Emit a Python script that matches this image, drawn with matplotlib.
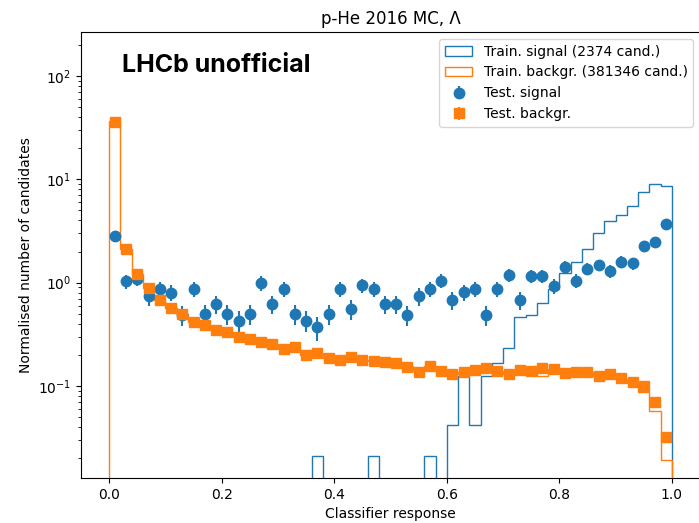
import numpy as np
import matplotlib
matplotlib.use("Agg")
import matplotlib.pyplot as plt

# 50 bins on [0, 1]
edges = np.linspace(0.0, 1.0, 51)
centres = 0.5 * (edges[:-1] + edges[1:])

train_sig = [0, 0, 0, 0, 0, 0, 0, 0, 0, 0,
             0, 0, 0, 0, 0, 0, 0, 0, 0.021, 0,
             0, 0, 0, 0.021, 0, 0, 0, 0, 0.021, 0,
             0.042, 0.126, 0.042, 0.126, 0.168, 0.232, 0.463, 0.484, 0.632, 0.863,
             1.25, 1.60, 2.10, 3.00, 3.92, 4.51, 5.48, 7.46, 9.06, 8.60]

train_bkg = [36.5, 2.12, 1.21, 0.88, 0.68, 0.57, 0.50, 0.417, 0.387, 0.35,
             0.33, 0.296, 0.288, 0.267, 0.255, 0.227, 0.24, 0.20, 0.21, 0.187,
             0.178, 0.19, 0.179, 0.175, 0.17, 0.166, 0.155, 0.14, 0.155, 0.139,
             0.131, 0.137, 0.142, 0.147, 0.141, 0.132, 0.142, 0.141, 0.124, 0.146,
             0.133, 0.136, 0.137, 0.126, 0.131, 0.118, 0.107, 0.087, 0.058, 0.0193]

test_sig = [2.80, 1.03, 1.08, 0.74, 0.87, 0.80, 0.49, 0.87, 0.50, 0.62,
            0.50, 0.43, 0.50, 1.00, 0.62, 0.87, 0.50, 0.43, 0.37, 0.50,
            0.87, 0.56, 0.94, 0.87, 0.62, 0.62, 0.49, 0.74, 0.87, 1.05,
            0.68, 0.81, 0.87, 0.49, 0.87, 1.19, 0.68, 1.17, 1.17, 0.93,
            1.42, 1.05, 1.36, 1.48, 1.30, 1.60, 1.54, 2.26, 2.47, 3.70]

test_sig_err = [0.26, 0.16, 0.16, 0.14, 0.15, 0.14, 0.11, 0.15, 0.11, 0.12,
                0.11, 0.10, 0.11, 0.16, 0.12, 0.15, 0.11, 0.10, 0.10, 0.11,
                0.15, 0.12, 0.15, 0.15, 0.12, 0.12, 0.11, 0.14, 0.15, 0.16,
                0.13, 0.14, 0.15, 0.11, 0.15, 0.17, 0.13, 0.17, 0.17, 0.15,
                0.19, 0.16, 0.18, 0.19, 0.18, 0.20, 0.20, 0.24, 0.25, 0.30]

test_bkg = [36.0, 2.12, 1.21, 0.88, 0.68, 0.57, 0.50, 0.417, 0.387, 0.35,
            0.33, 0.296, 0.288, 0.267, 0.255, 0.227, 0.24, 0.20, 0.21, 0.187,
            0.178, 0.19, 0.179, 0.175, 0.17, 0.166, 0.152, 0.136, 0.158, 0.139,
            0.131, 0.137, 0.142, 0.15, 0.141, 0.13, 0.142, 0.141, 0.151, 0.146,
            0.133, 0.136, 0.137, 0.126, 0.131, 0.12, 0.11, 0.100, 0.070, 0.032]

test_bkg_err = [0.3, 0.03, 0.02, 0.015, 0.013, 0.012, 0.011, 0.01, 0.01, 0.01,
                0.009, 0.009, 0.009, 0.008, 0.008, 0.008, 0.008, 0.007, 0.007, 0.007,
                0.007, 0.007, 0.007, 0.007, 0.007, 0.007, 0.006, 0.006, 0.006, 0.006,
                0.006, 0.006, 0.006, 0.006, 0.006, 0.006, 0.006, 0.006, 0.006, 0.006,
                0.006, 0.006, 0.006, 0.006, 0.006, 0.006, 0.005, 0.005, 0.004, 0.003]

n_train_sig = 2374
n_train_bkg = 381346

fig = plt.figure(figsize=(6.99, 5.23), dpi=100)
ax = fig.add_axes([0.1159, 0.0860, 0.8856, 0.8528])

ax.hist(centres, bins=edges, weights=train_sig, histtype="step", color="C0",
        label="Train. signal ({} cand.)".format(n_train_sig))
ax.hist(centres, bins=edges, weights=train_bkg, histtype="step", color="C1",
        label="Train. backgr. ({} cand.)".format(n_train_bkg))
ax.errorbar(centres, test_sig, yerr=test_sig_err, fmt="o", color="C0",
            markersize=7.5, label="Test. signal")
ax.errorbar(centres, test_bkg, yerr=test_bkg_err, fmt="s", color="C1",
            markersize=7.5, label="Test. backgr.")

ax.set_yscale("log")
ax.set_xlim(-0.05, 1.05)
ax.set_ylim(0.0129, 266)
ax.set_xlabel("Classifier response")
ax.set_ylabel("Normalised number of candidates")
ax.set_title("p-He 2016 MC, Λ", fontsize=12)
ax.text(0.066, 0.924, "LHCb unofficial", transform=ax.transAxes, fontsize=18,
        fontweight="bold", family="Inter", va="center", ha="left")
ax.legend(loc="upper right")

fig.savefig("out.png", dpi=100)
